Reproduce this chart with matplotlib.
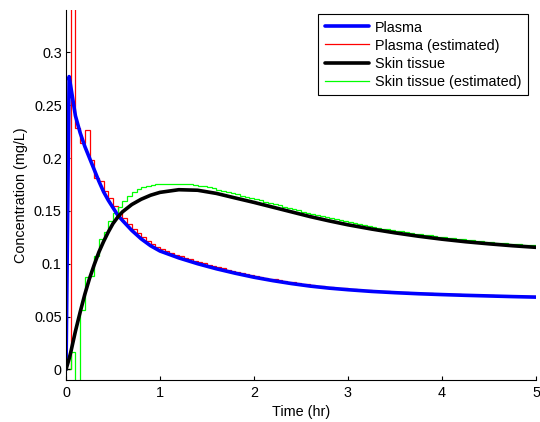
import numpy as np
import matplotlib
matplotlib.use("Agg")
import matplotlib.pyplot as plt

# ---- data ----
t_true = [0, 0.033, 0.05, 0.1, 0.15, 0.2, 0.25, 0.3, 0.35, 0.4, 0.45, 0.5, 0.55, 0.6,
          0.7, 0.8, 0.9, 1.0, 1.2, 1.4, 1.6, 1.8, 2.0, 2.2, 2.4, 2.6, 2.8, 3.0,
          3.25, 3.5, 3.75, 4.0, 4.25, 4.5, 4.75, 5.0]

plasma = [0, 0.277, 0.268, 0.240, 0.224, 0.211, 0.200, 0.189, 0.178, 0.168, 0.160,
          0.153, 0.146, 0.141, 0.1315, 0.1235, 0.117, 0.112, 0.1055, 0.100, 0.0952,
          0.091, 0.0872, 0.084, 0.0812, 0.0788, 0.0769, 0.0754, 0.0738, 0.0726,
          0.0716, 0.0708, 0.0701, 0.0695, 0.0689, 0.0684]

skin = [0, 0.010, 0.016, 0.036, 0.054, 0.071, 0.086, 0.099, 0.111, 0.121, 0.130,
        0.138, 0.144, 0.149, 0.156, 0.161, 0.1648, 0.1675, 0.1700, 0.1695, 0.1665,
        0.1622, 0.1580, 0.1535, 0.1490, 0.1445, 0.1405, 0.1368, 0.1328, 0.1292,
        0.1260, 0.1232, 0.1208, 0.1188, 0.1170, 0.1155]

est_edges = np.round(np.linspace(0, 5, 101), 2)

plasma_est = [
    0.0, 0.40, 0.228, 0.2145, 0.2265, 0.1985, 0.181, 0.1785, 0.169, 0.162,
    0.155, 0.148, 0.1428, 0.138, 0.1333, 0.129, 0.1252, 0.1218, 0.1187, 0.1160,
    0.1135, 0.1117, 0.1100, 0.1085, 0.1070, 0.1055, 0.1042, 0.1028, 0.1015, 0.1003,
    0.0990, 0.0978, 0.0966, 0.0955, 0.0944, 0.0933, 0.0923, 0.0913, 0.0903, 0.0893,
    0.0884, 0.0876, 0.0868, 0.0859, 0.0851, 0.0844, 0.0837, 0.0830, 0.0823, 0.0816,
    0.0810, 0.0804, 0.0798, 0.0793, 0.0788, 0.0783, 0.0778, 0.0774, 0.0770, 0.0766,
    0.0762, 0.0759, 0.0755, 0.0752, 0.0749, 0.0746, 0.0743, 0.0740, 0.0738, 0.0735,
    0.0733, 0.0731, 0.0729, 0.0727, 0.0725, 0.0723, 0.0721, 0.0719, 0.0717, 0.0716,
    0.0714, 0.0713, 0.0711, 0.0710, 0.0708, 0.0707, 0.0706, 0.0704, 0.0703, 0.0702,
    0.0701, 0.0699, 0.0698, 0.0697, 0.0696, 0.0694, 0.0693, 0.0692, 0.0691, 0.0690]

skin_est = [
    0.0, 0.0165, -0.03, 0.0566, 0.087, 0.088, 0.107, 0.123, 0.130, 0.140,
    0.148, 0.1535, 0.159, 0.164, 0.1675, 0.1705, 0.1725, 0.1738, 0.1746, 0.1751,
    0.1753, 0.1756, 0.1757, 0.1757, 0.1756, 0.1753, 0.1750, 0.1745, 0.1739, 0.1731,
    0.1722, 0.1713, 0.1702, 0.1691, 0.1679, 0.1667, 0.1655, 0.1643, 0.1632, 0.1620,
    0.1610, 0.1598, 0.1587, 0.1574, 0.1563, 0.1551, 0.1539, 0.1528, 0.1516, 0.1505,
    0.1493, 0.1481, 0.1470, 0.1460, 0.1449, 0.1439, 0.1429, 0.1419, 0.1409, 0.1400,
    0.1390, 0.1382, 0.1373, 0.1365, 0.1357, 0.1349, 0.1341, 0.1333, 0.1326, 0.1318,
    0.1312, 0.1305, 0.1298, 0.1292, 0.1285, 0.1279, 0.1272, 0.1267, 0.1261, 0.1255,
    0.1250, 0.1245, 0.1240, 0.1235, 0.1230, 0.1225, 0.1221, 0.1217, 0.1212, 0.1208,
    0.1204, 0.1200, 0.1197, 0.1193, 0.1190, 0.1186, 0.1183, 0.1179, 0.1176, 0.1173]

x_ticks = [0, 1, 2, 3, 4, 5]
y_ticks = [0, 0.05, 0.1, 0.15, 0.2, 0.25, 0.3]
y_ticklabels = ["0", "0.05", "0.1", "0.15", "0.2", "0.25", "0.3"]

# ---- figure ----
FS = 10.4
plt.rcParams['font.family'] = ['Liberation Sans', 'DejaVu Sans']
plt.rcParams['font.size'] = FS

fig = plt.figure(figsize=(5.4, 4.22), dpi=100)
ax = fig.add_axes([66/540, 42/422, 470/540, 370/422])

ax.plot(t_true, plasma, color='#0000ff', lw=2.6, label='Plasma',
        solid_joinstyle='round', solid_capstyle='round')
ax.stairs(plasma_est, est_edges, baseline=None, color='#ff0000', lw=0.9,
          label='Plasma (estimated)')
ax.plot(t_true, skin, color='black', lw=2.6, label='Skin tissue',
        solid_joinstyle='round', solid_capstyle='round')
ax.stairs(skin_est, est_edges, baseline=None, color='#00ff00', lw=0.9,
          label='Skin tissue (estimated)')

ax.set_xlim(0, 5)
ax.set_ylim(-0.01, 0.34)
ax.set_xticks(x_ticks)
ax.set_xticklabels([str(v) for v in x_ticks])
ax.set_yticks(y_ticks)
ax.set_yticklabels(y_ticklabels)

for s in ['top', 'right']:
    ax.spines[s].set_visible(False)
for s in ['left', 'bottom']:
    ax.spines[s].set_linewidth(0.8)

ax.tick_params(axis='both', direction='in', length=3, width=0.8, labelsize=FS)
ax.tick_params(axis='x', pad=4.5)
ax.tick_params(axis='y', pad=3)

ax.set_xlabel('Time (hr)', fontsize=FS, labelpad=3.5)
ax.set_ylabel('Concentration (mg/L)', fontsize=FS, labelpad=4)

leg = ax.legend(loc='upper right', bbox_to_anchor=(528/540, 1 - 14/422),
                bbox_transform=fig.transFigure, frameon=True, fancybox=False,
                edgecolor='black', framealpha=1, handlelength=3.05,
                handletextpad=0.42, labelspacing=0.28, borderpad=0.45,
                borderaxespad=0, fontsize=FS)
leg.get_frame().set_linewidth(0.8)

fig.savefig('out.png', dpi=100)
